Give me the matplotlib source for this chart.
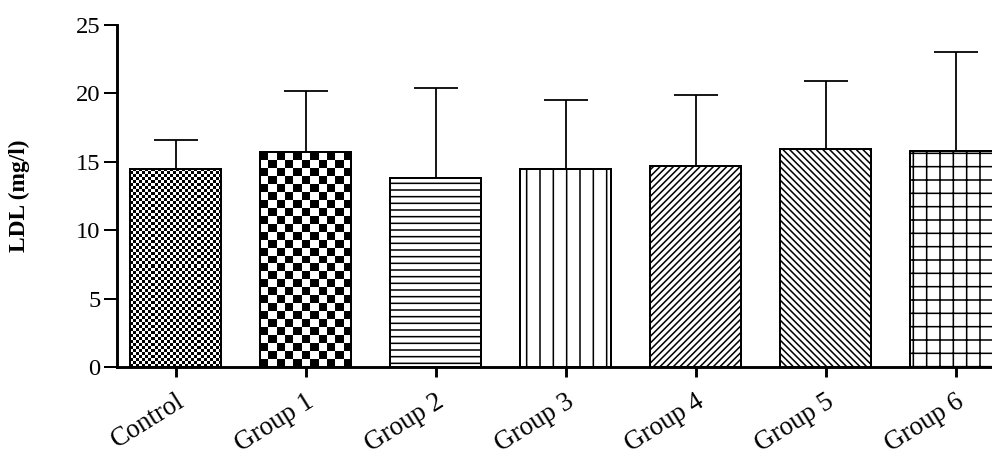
import numpy as np
import matplotlib
matplotlib.use('Agg')
import matplotlib.pyplot as plt

# LDL por grupo (media + desvio)
groups = ['Control', 'Group 1', 'Group 2', 'Group 3', 'Group 4', 'Group 5', 'Group 6']
ldl_mean = [14.5, 15.7, 13.8, 14.5, 14.7, 15.9, 15.8]
ldl_sd = [2.1, 4.5, 6.6, 5.0, 5.2, 5.0, 7.2]
hatches = [None, None, '--', '|', '////', '\\\\\\\\', '+']
checker_cell = [3, 8, None, None, None, None, None]  # tamanho do quadrado em px

plt.rcParams['font.family'] = 'Liberation Serif'
plt.rcParams['hatch.linewidth'] = 1.4

dpi = 80
fig = plt.figure(figsize=(992/dpi, 465/dpi), dpi=dpi)
ax = fig.add_axes([117/992, 1-367/465, 1-117/992, (367-25)/465])
ax.set_xlim(-0.45, 6.28)
ax.set_ylim(0, 25)

x = np.arange(len(groups))
bars = ax.bar(x, ldl_mean, width=0.70, color='white', edgecolor='black',
              linewidth=1.8, zorder=3)
for b, h in zip(bars, hatches):
    if h:
        b.set_hatch(h)

# padrao xadrez para Control e Group 1
fig.canvas.draw()
for b, cell in zip(bars, checker_cell):
    if cell is None:
        continue
    x0, y0 = b.get_x(), b.get_y()
    x1, y1 = x0 + b.get_width(), y0 + b.get_height()
    p0 = ax.transData.transform((x0, y0))
    p1 = ax.transData.transform((x1, y1))
    ncol = int(round((p1[0]-p0[0])/cell))
    nrow = int(round((p1[1]-p0[1])/cell))
    board = np.indices((nrow, ncol)).sum(axis=0) % 2
    im = ax.imshow(board, extent=(x0, x1, y0, y1), cmap='gray', origin='lower',
                   interpolation='nearest', aspect='auto', zorder=2)
    im.set_clip_path(b)
    b.set_facecolor('none')
ax.set_xlim(-0.45, 6.28)
ax.set_ylim(0, 25)

ax.errorbar(x, ldl_mean, yerr=[np.zeros(len(x)), ldl_sd], fmt='none',
            ecolor='black', elinewidth=1.6, capsize=20, capthick=1.6, zorder=4)

for s in ['top', 'right']:
    ax.spines[s].set_visible(False)
ax.spines['left'].set_linewidth(2.6)
ax.spines['bottom'].set_linewidth(2.6)
ax.spines['left'].set_zorder(5)
ax.spines['bottom'].set_zorder(5)

ax.set_yticks([0, 5, 10, 15, 20, 25])
ax.tick_params(axis='y', length=12, width=1.8, pad=3, labelsize=22)
ax.set_xticks(x)
ax.set_xticklabels(groups, rotation=32, ha='right', va='top',
                   rotation_mode='anchor', fontsize=24)
ax.tick_params(axis='x', length=9, width=2.6, pad=11)

ax.set_ylabel('LDL (mg/l)', fontsize=21, fontweight='bold')
ax.yaxis.set_label_coords(-0.099, 0.50)

plt.savefig('out.png', dpi=dpi)
